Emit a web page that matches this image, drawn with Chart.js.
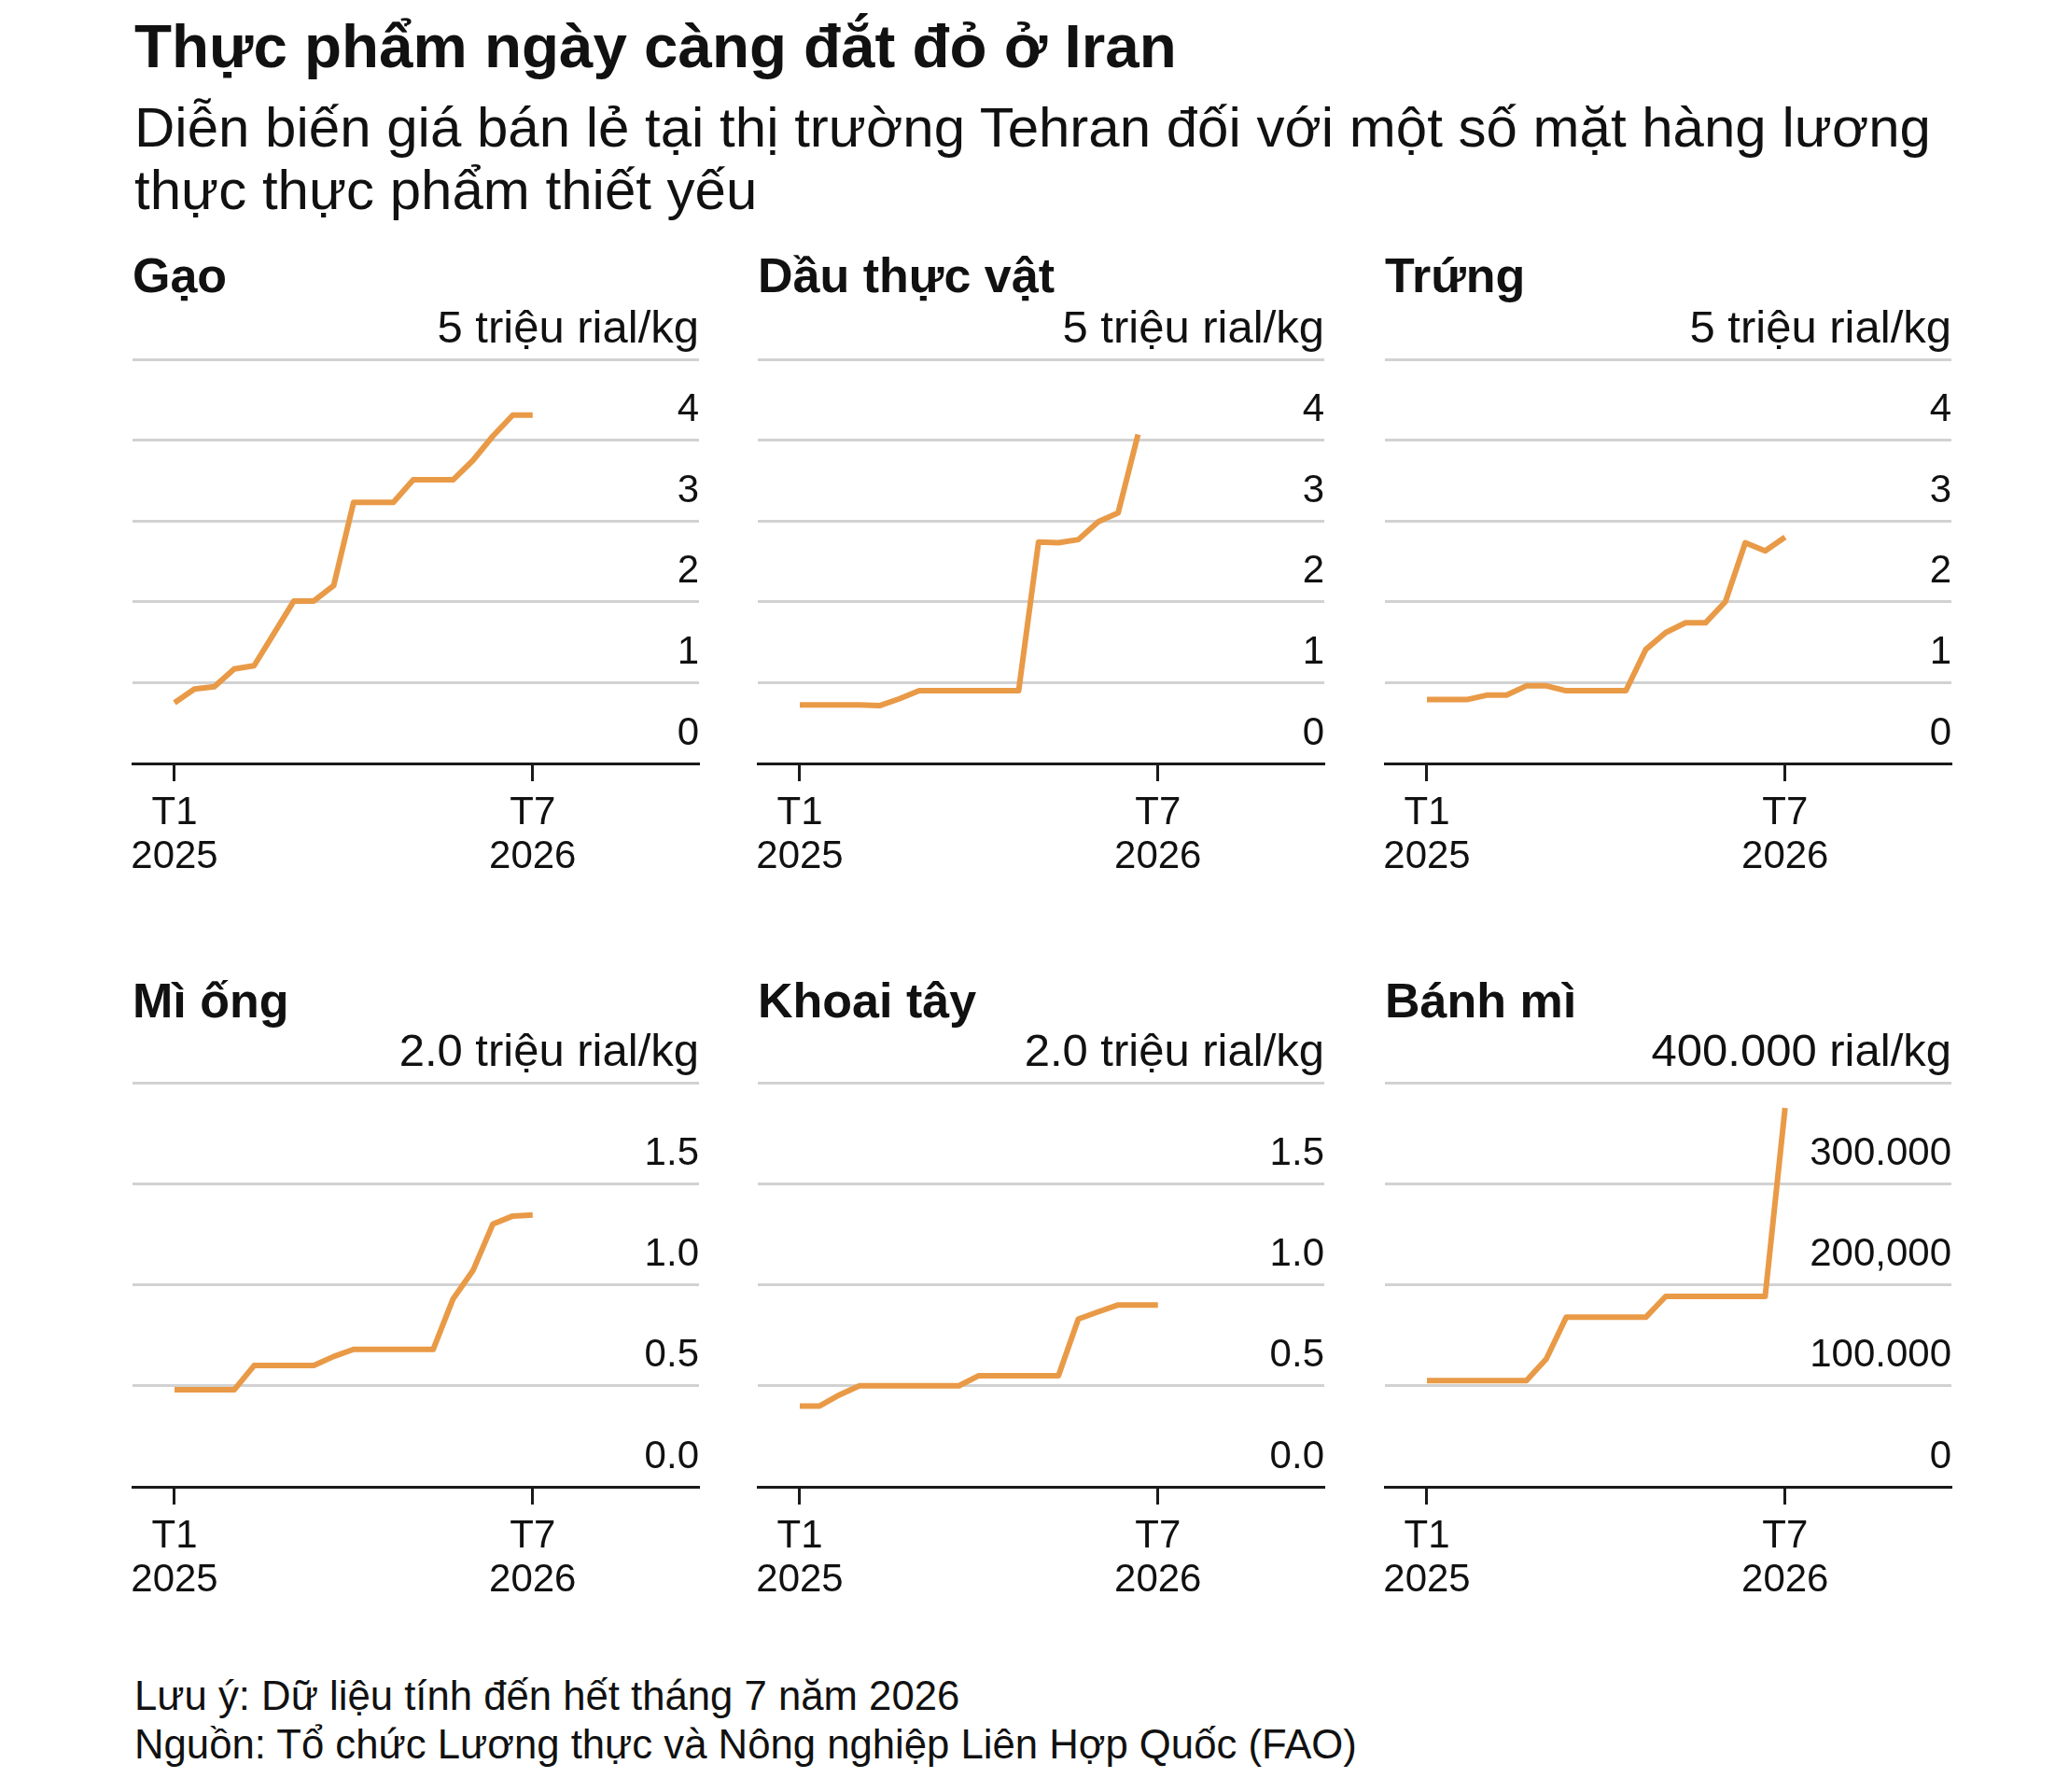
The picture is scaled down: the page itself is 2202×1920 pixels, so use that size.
<!DOCTYPE html>
<html lang="vi">
<head>
<meta charset="utf-8">
<title>Thực phẩm ngày càng đắt đỏ ở Iran</title>
<script src="https://cdn.jsdelivr.net/npm/chart.js@4.4.1/dist/chart.umd.min.js"></script>
<style>
  html, body { margin: 0; background: #fff; }
  body {
    position: relative;
    width: 2202px;
    height: 1920px;
    overflow: hidden;
    font-family: 'Liberation Sans', Arial, Helvetica, sans-serif;
    color: #111;
  }
  .txt { position: absolute; left: 144px; margin: 0; white-space: nowrap; }
  #title { top: 17px; font-size: 65.5px; font-weight: bold; line-height: 1; }
  #subtitle { top: 103px; font-size: 60px; line-height: 67px; }
  #footer { top: 1791px; font-size: 43.7px; line-height: 52px; }
  .ptitle { position: absolute; font-size: 52px; font-weight: bold; line-height: 1; white-space: nowrap; }
  canvas { position: absolute; }
</style>
</head>
<body>
<div id="title" class="txt">Thực phẩm ngày càng đắt đỏ ở Iran</div>
<div id="subtitle" class="txt">Diễn biến giá bán lẻ tại thị trường Tehran đối với một số mặt hàng lương<br>thực thực phẩm thiết yếu</div>
<div id="footer" class="txt">Lưu ý: Dữ liệu tính đến hết tháng 7 năm 2026<br>Nguồn: Tổ chức Lương thực và Nông nghiệp Liên Hợp Quốc (FAO)</div>

<script>
// Monthly observations, T1/2025 .. T7/2026
const MONTHS = [
  '2025-01', '2025-02', '2025-03', '2025-04', '2025-05', '2025-06', '2025-07',
  '2025-08', '2025-09', '2025-10', '2025-11', '2025-12', '2026-01', '2026-02',
  '2026-03', '2026-04', '2026-05', '2026-06', '2026-07'
];

// million rial/kg
const GAO = [0.75, 0.92, 0.95, 1.17, 1.21, 1.61, 2.01, 2.01, 2.20, 3.23, 3.23, 3.23, 3.51, 3.51, 3.51, 3.75, 4.05, 4.31, 4.31];
const DAU_THUC_VAT = [0.725, 0.725, 0.725, 0.725, 0.715, 0.80, 0.90, 0.90, 0.90, 0.90, 0.90, 0.90, 2.74, 2.73, 2.77, 2.99, 3.10, 4.07];
const TRUNG = [0.79, 0.79, 0.79, 0.845, 0.845, 0.96, 0.96, 0.90, 0.90, 0.90, 0.90, 1.41, 1.62, 1.74, 1.74, 2.00, 2.73, 2.63, 2.80];
const MI_ONG = [0.48, 0.48, 0.48, 0.48, 0.60, 0.60, 0.60, 0.60, 0.645, 0.68, 0.68, 0.68, 0.68, 0.68, 0.93, 1.07, 1.30, 1.34, 1.345];
const KHOAI_TAY = [0.40, 0.40, 0.455, 0.50, 0.50, 0.50, 0.50, 0.50, 0.50, 0.55, 0.55, 0.55, 0.55, 0.55, 0.83, 0.866, 0.90, 0.90, 0.90];
// rial/kg
const BANH_MI = [105000, 105000, 105000, 105000, 105000, 105000, 126600, 167800, 167800, 167800, 167800, 167800, 188500, 188500, 188500, 188500, 188500, 188500, 375000];

// tick labels (the top one carries the unit)
const Y_TICKS_5M = ['0', '1', '2', '3', '4', '5 triệu rial/kg'];
const Y_TICKS_2M = ['0.0', '0.5', '1.0', '1.5', '2.0 triệu rial/kg'];
const Y_TICKS_BREAD = ['0', '100.000', '200,000', '300.000', '400.000 rial/kg'];
const X_TICK_MONTHS = [0, 18];
const X_TICK_LABELS = [['T1', '2025'], ['T7', '2026']];

const LINE_COLOR = '#e99a47';
const GRID_COLOR = '#d2d2d2';
const AXIS_COLOR = '#1a1a1a';

const GRID_W = 607, GRID_H = 433;
const PAD_TOP = 70, PAD_LEFT = 20, PAD_RIGHT = 10, X_AXIS_H = 130;
const COLS = [142, 812, 1484];
const ROWS = [{ grid: 385, title: 313 }, { grid: 1160, title: 1090 }];

const panels = [
  { title: 'Gạo', values: GAO, ticks: Y_TICKS_5M, max: 5, step: 1 },
  { title: 'Dầu thực vật', values: DAU_THUC_VAT, ticks: Y_TICKS_5M, max: 5, step: 1 },
  { title: 'Trứng', values: TRUNG, ticks: Y_TICKS_5M, max: 5, step: 1 },
  { title: 'Mì ống', values: MI_ONG, ticks: Y_TICKS_2M, max: 2, step: 0.5 },
  { title: 'Khoai tây', values: KHOAI_TAY, ticks: Y_TICKS_2M, max: 2, step: 0.5 },
  { title: 'Bánh mì', values: BANH_MI, ticks: Y_TICKS_BREAD, max: 400000, step: 100000 },
];

Chart.defaults.font.family = "'Liberation Sans', Arial, Helvetica, sans-serif";
Chart.defaults.color = '#111';

function initPanel(panel, i) {
  const left = COLS[i % 3];
  const row = ROWS[Math.floor(i / 3)];

  // Panel title
  const t = document.createElement('div');
  t.className = 'ptitle';
  t.textContent = panel.title;
  t.style.left = left + 'px';
  t.style.top = (row.title - 0.8465 * 52) + 'px';
  document.body.appendChild(t);

  const canvas = document.createElement('canvas');
  canvas.width = PAD_LEFT + GRID_W + PAD_RIGHT;
  canvas.height = PAD_TOP + GRID_H + X_AXIS_H;
  canvas.style.left = (left - PAD_LEFT) + 'px';
  canvas.style.top = (row.grid - PAD_TOP) + 'px';
  document.body.appendChild(canvas);

  const points = panel.values.map((v, m) => ({ x: m, y: v }));
  const lastTick = panel.ticks.length - 1;

  return new Chart(canvas, {
    type: 'line',
    data: {
      datasets: [{
        data: points,
        borderColor: LINE_COLOR,
        borderWidth: 6,
        pointRadius: 0,
        tension: 0,
        borderJoinStyle: 'round',
        fill: false,
      }]
    },
    options: {
      responsive: false,
      animation: false,
      devicePixelRatio: 1,
      layout: { padding: { top: PAD_TOP, left: PAD_LEFT, right: PAD_RIGHT, bottom: 0 } },
      plugins: { legend: { display: false }, tooltip: { enabled: false } },
      scales: {
        x: {
          type: 'linear',
          min: -2.11,
          max: 26.36,
          afterBuildTicks(scale) {
            scale.ticks = X_TICK_MONTHS.map((v) => ({ value: v }));
          },
          afterFit(scale) { scale.height = X_AXIS_H; },
          grid: {
            drawOnChartArea: false,
            drawTicks: true,
            tickLength: 19,
            tickWidth: 3,
            tickColor: AXIS_COLOR,
          },
          border: { display: true, color: AXIS_COLOR, width: 3 },
          ticks: {
            autoSkip: false,
            maxRotation: 0,
            padding: 11,
            color: '#111',
            font: { size: 42, lineHeight: 1.12 },
            callback(value) {
              const k = X_TICK_MONTHS.indexOf(value);
              return k >= 0 ? X_TICK_LABELS[k] : '';
            },
          },
        },
        y: {
          position: 'right',
          min: 0,
          max: panel.max,
          afterFit(scale) { scale.width = 0; },
          grid: {
            drawTicks: false,
            lineWidth: 3,
            color: (ctx) => (ctx.tick && ctx.tick.value === 0 ? AXIS_COLOR : GRID_COLOR),
          },
          border: { display: false },
          ticks: {
            stepSize: panel.step,
            mirror: true,
            padding: 0,
            labelOffset: -32,
            color: '#111',
            font: (ctx) => ({ size: ctx.index === lastTick ? 49 : 42 }),
            callback: (value, index) => panel.ticks[index],
          },
        },
      },
    },
  });
}

panels.forEach(initPanel);
</script>
</body>
</html>
